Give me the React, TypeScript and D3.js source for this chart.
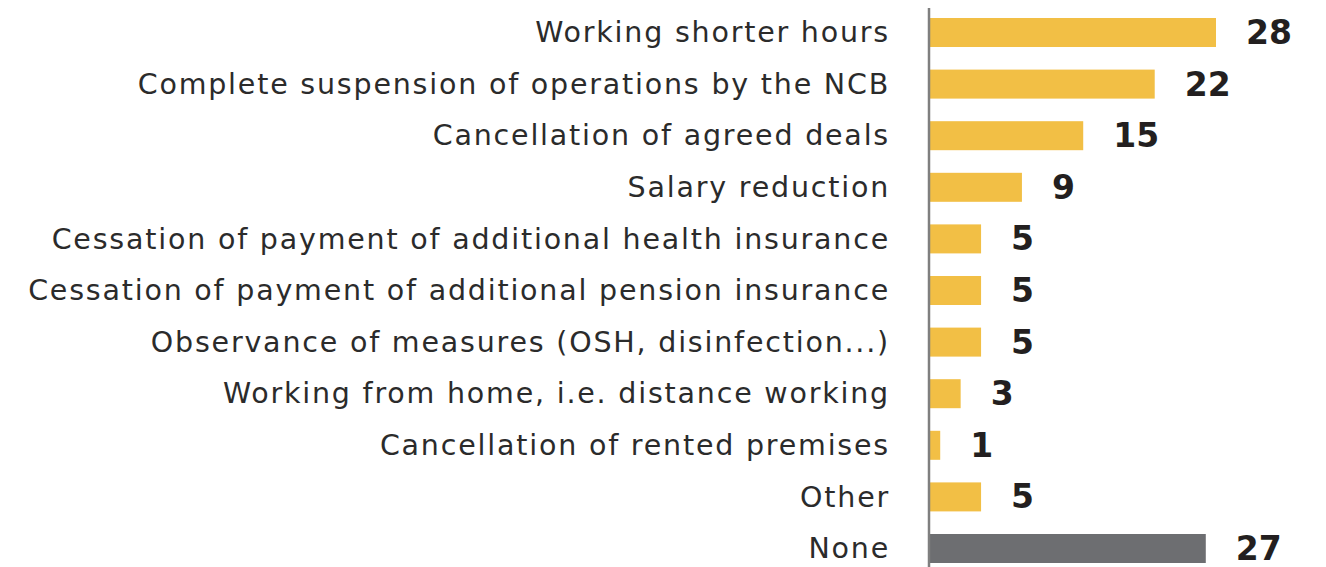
import React from "react";
import * as d3 from "d3";

const categories = [
  "Working shorter hours",
  "Complete suspension of operations by the NCB",
  "Cancellation of agreed deals",
  "Salary reduction",
  "Cessation of payment of additional health insurance",
  "Cessation of payment of additional pension insurance",
  "Observance of measures (OSH, disinfection...)",
  "Working from home, i.e. distance working",
  "Cancellation of rented premises",
  "Other",
  "None",
];
const values = [28, 22, 15, 9, 5, 5, 5, 3, 1, 5, 27];
const highlight = ["None"];

const W = 1326;
const H = 567;

export default function App() {
  const y = d3.scaleBand<string>().domain(categories).range([18, 563]).paddingInner(0.438).paddingOuter(0);
  const x = d3.scaleLinear().domain([0, 28]).range([930, 1216]);
  const bw = y.bandwidth();
  return (
    <svg width={W} height={H} style={{ position: "absolute", left: 0, top: 0, background: "#fff" }}>
      {categories.map((c, i) => {
        const yy = y(c)!;
        const v = values[i];
        const col = highlight.includes(c) ? "#6d6e71" : "#f2bf45";
        return (
          <g key={c}>
            <rect x={x(0)} y={yy} width={x(v) - x(0)} height={bw} fill={col} />
            <text
              x={890}
              y={yy + bw / 2}
              dy="0.34em"
              textAnchor="end"
              fontFamily="'DejaVu Sans', sans-serif"
              fontWeight={400}
              fontSize={28.5}
              letterSpacing={1.8}
              fill="#2b2b2b"
            >
              {c}
            </text>
            <text
              x={x(v) + 30}
              y={yy + bw / 2}
              dy="0.35em"
              textAnchor="start"
              fontFamily="'DejaVu Sans', sans-serif"
              fontWeight={700}
              fontSize={33}
              fill="#231f20"
            >
              {v}
            </text>
          </g>
        );
      })}
      <line x1={929} x2={929} y1={8} y2={567} stroke="#7f7f7f" strokeWidth={2.5} />
    </svg>
  );
}
